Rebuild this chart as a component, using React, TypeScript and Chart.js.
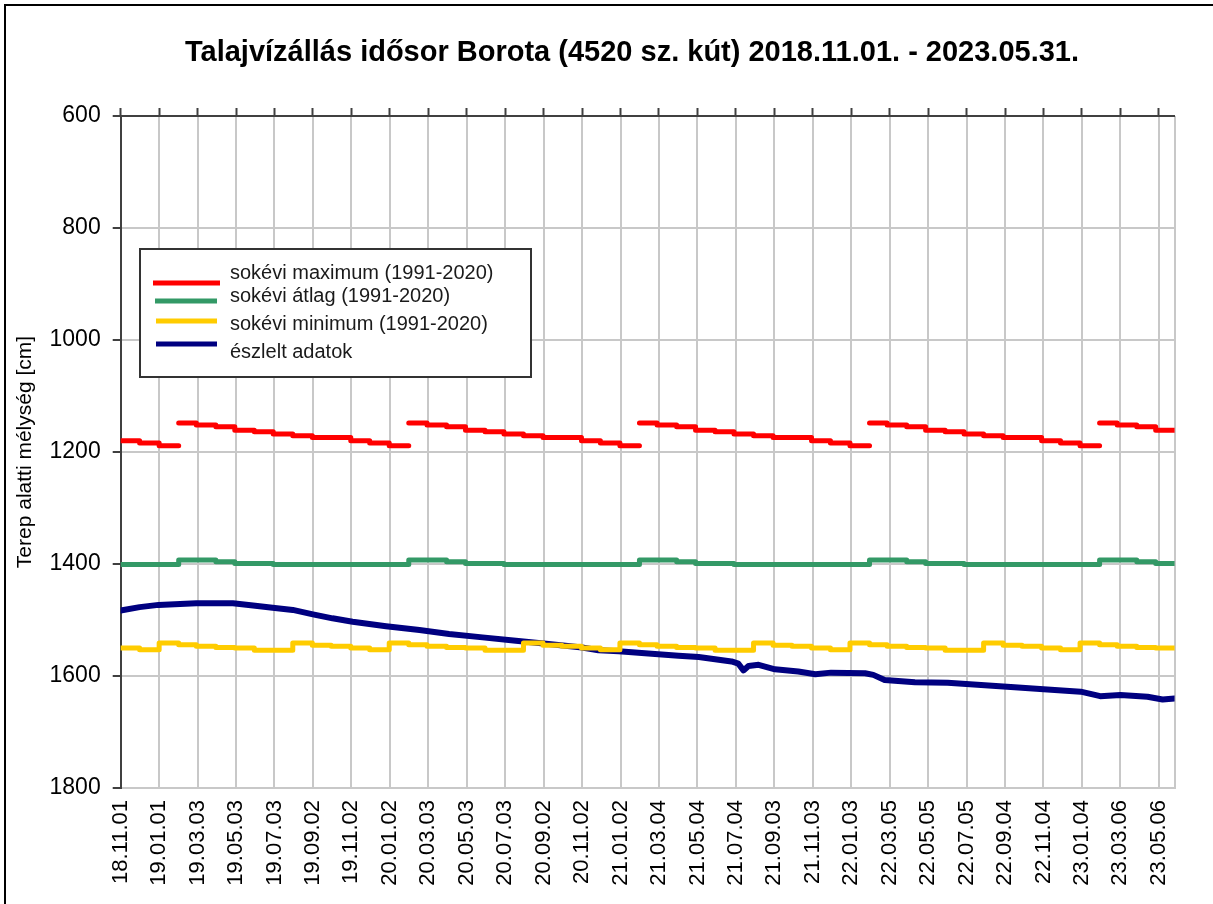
import React, { useEffect, useRef } from 'react';
import { Chart, registerables } from 'chart.js';

Chart.register(...registerables);

const TITLE = 'Talajvízállás idősor Borota (4520 sz. kút) 2018.11.01. - 2023.05.31.';
const Y_TITLE = 'Terep alatti mélység [cm]';
const START_DATE = '2018-11-01';
const END_DATE = '2023-05-31';

const X_TICK_LABELS = [
  '18.11.01', '19.01.01', '19.03.03', '19.05.03', '19.07.03', '19.09.02', '19.11.02',
  '20.01.02', '20.03.03', '20.05.03', '20.07.03', '20.09.02', '20.11.02', '21.01.02',
  '21.03.04', '21.05.04', '21.07.04', '21.09.03', '21.11.03', '22.01.03', '22.03.05',
  '22.05.05', '22.07.05', '22.09.04', '22.11.04', '23.01.04', '23.03.06', '23.05.06',
];
const Y_TICKS = [600, 800, 1000, 1200, 1400, 1600, 1800];

const SERIES_LABELS = [
  'sokévi maximum (1991-2020)',
  'sokévi átlag (1991-2020)',
  'sokévi minimum (1991-2020)',
  'észlelt adatok',
];

const MONTHS = [
  '2018-11', '2018-12',
  '2019-01', '2019-02', '2019-03', '2019-04', '2019-05', '2019-06', '2019-07', '2019-08', '2019-09', '2019-10', '2019-11', '2019-12',
  '2020-01', '2020-02', '2020-03', '2020-04', '2020-05', '2020-06', '2020-07', '2020-08', '2020-09', '2020-10', '2020-11', '2020-12',
  '2021-01', '2021-02', '2021-03', '2021-04', '2021-05', '2021-06', '2021-07', '2021-08', '2021-09', '2021-10', '2021-11', '2021-12',
  '2022-01', '2022-02', '2022-03', '2022-04', '2022-05', '2022-06', '2022-07', '2022-08', '2022-09', '2022-10', '2022-11', '2022-12',
  '2023-01', '2023-02', '2023-03', '2023-04', '2023-05',
];

const MAX_CM = [
  1180, 1184,
  1189, 1148, 1152, 1155, 1161, 1164, 1168, 1171, 1174, 1174, 1180, 1184,
  1189, 1148, 1152, 1155, 1161, 1164, 1168, 1171, 1174, 1174, 1180, 1184,
  1189, 1148, 1152, 1155, 1161, 1164, 1168, 1171, 1174, 1174, 1180, 1184,
  1189, 1148, 1152, 1155, 1161, 1164, 1168, 1171, 1174, 1174, 1180, 1184,
  1189, 1148, 1152, 1155, 1161,
];
// months where the maximum line starts a new (unconnected) piece
const MAX_BREAKS = ['2019-02', '2020-02', '2021-02', '2022-02', '2023-02'];

const AVG_CM = [
  1401, 1401,
  1401, 1393, 1393, 1396, 1399, 1399, 1401, 1401, 1401, 1401, 1401, 1401,
  1401, 1393, 1393, 1396, 1399, 1399, 1401, 1401, 1401, 1401, 1401, 1401,
  1401, 1393, 1393, 1396, 1399, 1399, 1401, 1401, 1401, 1401, 1401, 1401,
  1401, 1393, 1393, 1396, 1399, 1399, 1401, 1401, 1401, 1401, 1401, 1401,
  1401, 1393, 1393, 1396, 1399,
];

const MIN_CM = [
  1550, 1553,
  1541, 1544, 1547, 1549, 1550, 1554, 1554, 1541, 1545, 1547, 1550, 1553,
  1541, 1544, 1547, 1549, 1550, 1554, 1554, 1541, 1545, 1547, 1550, 1553,
  1541, 1544, 1547, 1549, 1550, 1554, 1554, 1541, 1545, 1547, 1550, 1553,
  1541, 1544, 1547, 1549, 1550, 1554, 1554, 1541, 1545, 1547, 1550, 1553,
  1541, 1544, 1547, 1549, 1550,
];

const OBS_DATES = [
  '2018-11-01', '2018-12-01', '2018-12-31', '2019-03-01', '2019-04-28', '2019-05-30', '2019-06-30',
  '2019-08-01', '2019-09-02', '2019-10-03', '2019-11-04', '2019-12-27', '2020-02-18', '2020-04-05',
  '2020-05-28', '2020-07-20', '2020-09-10', '2020-11-02', '2020-11-28', '2020-12-30', '2021-02-15',
  '2021-04-04', '2021-05-06', '2021-06-27', '2021-07-08', '2021-07-16', '2021-07-24', '2021-08-09',
  '2021-09-04', '2021-10-11', '2021-11-07', '2021-12-02', '2022-01-25', '2022-02-07', '2022-02-25',
  '2022-04-14', '2022-06-05', '2022-07-28', '2022-09-19', '2022-11-10', '2023-01-02', '2023-02-02',
  '2023-03-06', '2023-04-18', '2023-05-12', '2023-05-31',
];
const OBS_CM = [
  1483, 1477, 1473, 1470, 1470, 1474, 1478,
  1482, 1490, 1497, 1503, 1511, 1518, 1525,
  1531, 1537, 1543, 1549, 1554, 1556, 1560,
  1564, 1566, 1574, 1578, 1590, 1582, 1580,
  1588, 1592, 1597, 1594, 1595, 1598, 1607,
  1611, 1612, 1616, 1620, 1624, 1628, 1636,
  1634, 1637, 1642, 1640,
];

const COLORS = ['#ff0000', '#339966', '#ffcc00', '#000080'];
const FONT = '"Liberation Sans", Arial, Helvetica, sans-serif';

const DAY_MS = 86400000;
const utc = (y: number, m: number, d: number) => Date.UTC(y, m - 1, d);
const START_MS = (() => {
  const [y, m, d] = START_DATE.split('-').map(Number);
  return utc(y, m, d);
})();
const dayOfIso = (iso: string) => {
  const [y, m, d] = iso.split('-').map(Number);
  return Math.round((utc(y, m, d ?? 1) - START_MS) / DAY_MS);
};
const dayOfTick = (lbl: string) => {
  const [yy, mm, dd] = lbl.split('.').map(Number);
  return Math.round((utc(2000 + yy, mm, dd) - START_MS) / DAY_MS);
};
const END_DAY = dayOfIso(END_DATE);
const TICK_DAYS = X_TICK_LABELS.map(dayOfTick);
const TICK_LABEL_BY_DAY = new Map<number, string>(TICK_DAYS.map((d, i) => [d, X_TICK_LABELS[i]]));

function monthlySteps(values: number[], breaks: string[] = []) {
  const pts: { x: number; y: number | null }[] = [];
  MONTHS.forEach((m, i) => {
    const x = dayOfIso(m + '-01');
    if (i > 0 && breaks.includes(m)) {
      pts.push({ x, y: values[i - 1] });
      pts.push({ x, y: null });
    }
    pts.push({ x, y: values[i] });
  });
  pts.push({ x: END_DAY, y: values[values.length - 1] });
  return pts;
}

const chromePlugin = {
  id: 'chrome',
  afterDraw(chart: any) {
    const ctx = chart.ctx as CanvasRenderingContext2D;
    ctx.save();
    // outer frame
    ctx.fillStyle = '#000';
    ctx.fillRect(4, 4, 2, 900);
    ctx.fillRect(4, 4, 1209, 2);
    // title
    ctx.font = `bold 29px ${FONT}`;
    ctx.textAlign = 'center';
    ctx.textBaseline = 'alphabetic';
    ctx.fillStyle = '#000';
    ctx.fillText(TITLE, 632, 61);
    // legend box
    const bx = 140, by = 249, bw = 391, bh = 128;
    ctx.fillStyle = '#fff';
    ctx.fillRect(bx, by, bw, bh);
    ctx.strokeStyle = '#333';
    ctx.lineWidth = 2;
    ctx.strokeRect(bx, by, bw, bh);
    const rows = [
      { lineY: 283, textY: 273, x0: 153, x1: 220 },
      { lineY: 301, textY: 296, x0: 155, x1: 217 },
      { lineY: 321, textY: 324, x0: 156, x1: 217 },
      { lineY: 344, textY: 352, x0: 156, x1: 217 },
    ];
    ctx.font = `20px ${FONT}`;
    ctx.textAlign = 'left';
    ctx.textBaseline = 'middle';
    chart.data.datasets.forEach((ds: any, i: number) => {
      const r = rows[i];
      ctx.strokeStyle = ds.borderColor;
      ctx.lineWidth = 5;
      ctx.lineCap = 'butt';
      ctx.beginPath();
      ctx.moveTo(r.x0, r.lineY);
      ctx.lineTo(r.x1, r.lineY);
      ctx.stroke();
      ctx.fillStyle = '#1a1a1a';
      ctx.fillText(ds.label, 230, r.textY);
    });
    ctx.restore();
  },
};

export default function App() {
  const ref = useRef<HTMLCanvasElement | null>(null);

  useEffect(() => {
    if (!ref.current) return;
    const stepStyle = {
      borderWidth: 5,
      stepped: true,
      pointRadius: 0,
      borderCapStyle: 'round',
      borderJoinStyle: 'round',
      fill: false,
      spanGaps: false,
    };
    const xTicks = () => TICK_DAYS.concat([END_DAY]).map((v) => ({ value: v }));
    const chart = new Chart(ref.current, {
      type: 'line',
      data: {
        datasets: [
          { label: SERIES_LABELS[0], data: monthlySteps(MAX_CM, MAX_BREAKS), borderColor: COLORS[0], ...stepStyle },
          { label: SERIES_LABELS[1], data: monthlySteps(AVG_CM), borderColor: COLORS[1], ...stepStyle },
          { label: SERIES_LABELS[2], data: monthlySteps(MIN_CM), borderColor: COLORS[2], ...stepStyle },
          {
            label: SERIES_LABELS[3],
            data: OBS_DATES.map((d, i) => ({ x: dayOfIso(d), y: OBS_CM[i] })),
            borderColor: COLORS[3],
            borderWidth: 6,
            pointRadius: 0,
            tension: 0,
            borderCapStyle: 'round',
            borderJoinStyle: 'round',
            fill: false,
          },
        ],
      } as any,
      options: {
        responsive: false,
        animation: false,
        devicePixelRatio: 1,
        events: [],
        layout: { padding: { top: 108, left: 8, right: 36, bottom: 0 } },
        plugins: {
          legend: { display: false },
          title: { display: false },
          tooltip: { enabled: false },
        },
        scales: {
          x: {
            type: 'linear',
            position: 'bottom',
            min: 0,
            max: END_DAY,
            afterBuildTicks: (s: any) => { s.ticks = xTicks(); },
            afterFit: (s: any) => { s.height = 116; },
            ticks: {
              autoSkip: false,
              minRotation: 90,
              maxRotation: 90,
              padding: 12,
              color: '#000',
              font: { family: FONT, size: 22 },
              callback: (v: any) => TICK_LABEL_BY_DAY.get(Number(v)) ?? '',
            },
            grid: { color: '#c8c8c8', lineWidth: 2, drawTicks: false },
            border: { display: true, color: '#c8c8c8', width: 2 },
          },
          xTop: {
            type: 'linear',
            position: 'top',
            min: 0,
            max: END_DAY,
            afterBuildTicks: (s: any) => { s.ticks = xTicks(); },
            ticks: { display: false },
            grid: {
              drawOnChartArea: false,
              drawTicks: true,
              tickLength: 8,
              tickWidth: 2,
              tickColor: (c: any) => (c.tick && c.tick.value === END_DAY ? 'rgba(0,0,0,0)' : '#404040'),
            },
            border: { display: true, color: '#404040', width: 2 },
          },
          y: {
            type: 'linear',
            reverse: true,
            min: 600,
            max: 1800,
            afterBuildTicks: (s: any) => { s.ticks = Y_TICKS.map((v) => ({ value: v })); },
            afterFit: (s: any) => { s.width = 112.7; },
            ticks: {
              padding: 12,
              color: '#000',
              font: { family: FONT, size: 23 },
              callback: (v: any) => String(v),
            },
            grid: { color: '#c8c8c8', lineWidth: 2, tickColor: '#404040', tickLength: 8, tickWidth: 2 },
            border: { display: true, color: '#404040', width: 2 },
            title: {
              display: true,
              text: Y_TITLE,
              color: '#000',
              font: { family: FONT, size: 21 },
              padding: { top: 5, bottom: 0 },
            },
          },
        },
      } as any,
      plugins: [chromePlugin],
    });
    return () => chart.destroy();
  }, []);

  return (
    <div style={{ position: 'fixed', left: 0, top: 0, width: 1213, height: 904, background: '#fff' }}>
      <canvas ref={ref} width={1213} height={904} style={{ display: 'block' }} />
    </div>
  );
}
